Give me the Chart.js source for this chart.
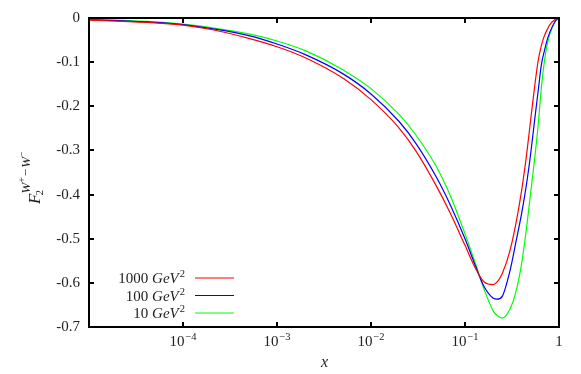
<!DOCTYPE html>
<html>
<head>
<meta charset="utf-8">
<script src="https://cdn.jsdelivr.net/npm/chart.js@4.4.0/dist/chart.umd.min.js"></script>
<style>
html, body { margin: 0; padding: 0; background: #fff; }
</style>
</head>
<body>
<canvas id="chart" width="581" height="374"></canvas>
<script>
// x grid (log axis)
var xValues = [1e-5, 2e-5, 5e-5, 1e-4, 2e-4, 5e-4, 1e-3, 2e-3, 5e-3, 1e-2,
    2e-2, 3e-2, 5e-2, 7e-2, 0.1, 0.13, 0.16, 0.2, 0.22, 0.25,
    0.3, 0.35, 0.4, 0.45, 0.5, 0.55, 0.6, 0.65, 0.7, 0.75,
    0.8, 0.9, 0.95, 1];

// F2 W+ - W-
var f2_1000 = [-0.005, -0.007, -0.011, -0.016, -0.026, -0.046, -0.065, -0.090, -0.136, -0.185,
    -0.250, -0.301, -0.382, -0.443, -0.515, -0.568, -0.598, -0.604, -0.598, -0.578,
    -0.528, -0.463, -0.391, -0.313, -0.230, -0.156, -0.097, -0.062, -0.040, -0.026,
    -0.015, -0.004, -0.001, 0];
var f2_100 = [-0.004, -0.006, -0.010, -0.015, -0.024, -0.040, -0.059, -0.083, -0.126, -0.172,
    -0.235, -0.284, -0.362, -0.424, -0.500, -0.563, -0.609, -0.635, -0.637, -0.630,
    -0.574, -0.505, -0.443, -0.378, -0.307, -0.232, -0.166, -0.105, -0.074, -0.049,
    -0.032, -0.009, -0.003, 0];
var f2_10 = [-0.003, -0.005, -0.009, -0.014, -0.022, -0.036, -0.052, -0.074, -0.117, -0.160,
    -0.219, -0.265, -0.338, -0.403, -0.489, -0.558, -0.615, -0.664, -0.674, -0.680,
    -0.660, -0.618, -0.557, -0.478, -0.395, -0.320, -0.243, -0.156, -0.097, -0.060,
    -0.036, -0.010, -0.003, 0];

var seriesQ2 = ['1000', '100', '10'];
var seriesColors = ['#ff0000', '#0000ff', '#00ff00'];

var xTickValues = [1e-5, 1e-4, 1e-3, 1e-2, 1e-1, 1];
var xTickExps = [null, -4, -3, -2, -1, 0];   // null = no label
var yTickValues = [0, -0.1, -0.2, -0.3, -0.4, -0.5, -0.6, -0.7];

var SERIF = '"Liberation Serif", "DejaVu Serif", serif';
var TXT = '#222';

function pts(ys) {
    var out = [];
    for (var i = 0; i < xValues.length; i++) out.push({x: xValues[i], y: ys[i]});
    return out;
}

// frame, inward ticks, x labels, titles and key
var decorPlugin = {
    id: 'decor',
    afterDraw: function(chart) {
        var ctx = chart.ctx, a = chart.chartArea;
        var sx = chart.scales.x, sy = chart.scales.y;
        ctx.save();
        ctx.strokeStyle = '#000';
        ctx.lineWidth = 2;
        ctx.strokeRect(a.left, a.top, a.right - a.left, a.bottom - a.top);

        ctx.beginPath();
        xTickValues.forEach(function(v) {
            var p = Math.round(sx.getPixelForValue(v));
            ctx.moveTo(p, a.bottom); ctx.lineTo(p, a.bottom - 5);
            ctx.moveTo(p, a.top); ctx.lineTo(p, a.top + 5);
        });
        yTickValues.forEach(function(v) {
            var p = Math.round(sy.getPixelForValue(v));
            ctx.moveTo(a.left, p); ctx.lineTo(a.left + 5, p);
            ctx.moveTo(a.right, p); ctx.lineTo(a.right - 5, p);
        });
        ctx.stroke();

        // x tick labels 10^n
        ctx.fillStyle = TXT;
        ctx.textBaseline = 'alphabetic';
        ctx.textAlign = 'left';
        var base = a.bottom + 19;
        xTickValues.forEach(function(v, i) {
            var e = xTickExps[i];
            if (e === null) return;
            var p = sx.getPixelForValue(v);
            ctx.font = '15px ' + SERIF;
            if (e === 0) {
                ctx.fillText('1', p - ctx.measureText('1').width / 2, base);
                return;
            }
            var w1 = ctx.measureText('10').width;
            ctx.font = '10.5px ' + SERIF;
            var sup = '\u2212' + Math.abs(e);
            var w2 = ctx.measureText(sup).width;
            var x0 = p - (w1 + w2 + 1) / 2;
            ctx.font = '15px ' + SERIF;
            ctx.fillText('10', x0, base);
            ctx.font = '10.5px ' + SERIF;
            ctx.fillText(sup, x0 + w1 + 1, base - 6);
        });

        // x title
        ctx.font = 'italic 16px ' + SERIF;
        ctx.fillText('x', (a.left + a.right) / 2 - 3, a.bottom + 40);

        // y title F_2^{W+ - W-}
        ctx.save();
        ctx.translate(40, 204);
        ctx.rotate(-Math.PI / 2);
        ctx.font = 'italic 17px ' + SERIF;
        ctx.fillText('F', 0, 0);
        var fx = ctx.measureText('F').width;
        ctx.font = '11px ' + SERIF;
        ctx.fillText('2', fx - 2, 3);
        var cx = fx, up = -10;
        ctx.font = 'italic 13px ' + SERIF;
        ctx.fillText('W', cx, up); cx += ctx.measureText('W').width;
        ctx.font = '10px ' + SERIF;
        ctx.fillText('+', cx, up - 5); cx += ctx.measureText('+').width + 1;
        ctx.font = '13px ' + SERIF;
        ctx.fillText('\u2212', cx, up); cx += ctx.measureText('\u2212').width + 1;
        ctx.font = 'italic 13px ' + SERIF;
        ctx.fillText('W', cx, up); cx += ctx.measureText('W').width;
        ctx.font = '10px ' + SERIF;
        ctx.fillText('\u2212', cx, up - 5);
        ctx.restore();

        // key, bottom left: text then line sample
        var rowY = [278, 295.5, 313];
        chart.data.datasets.forEach(function(ds, i) {
            var y = rowY[i];
            var right = 185;
            ctx.font = '15px ' + SERIF;
            var wn = ctx.measureText(seriesQ2[i] + ' ').width;
            ctx.font = 'italic 15px ' + SERIF;
            var wg = ctx.measureText('GeV').width;
            ctx.font = '10.5px ' + SERIF;
            var ws = ctx.measureText('2').width;
            var x0 = right - wn - wg - ws - 1;
            ctx.fillStyle = TXT;
            ctx.font = '15px ' + SERIF;
            ctx.fillText(seriesQ2[i] + ' ', x0, y + 5);
            ctx.font = 'italic 15px ' + SERIF;
            ctx.fillText('GeV', x0 + wn, y + 5);
            ctx.font = '10.5px ' + SERIF;
            ctx.fillText('2', x0 + wn + wg + 1, y - 1);
            ctx.strokeStyle = ds.borderColor;
            ctx.lineWidth = 1.2;
            ctx.beginPath();
            ctx.moveTo(195, y); ctx.lineTo(234, y);
            ctx.stroke();
        });
        ctx.restore();
    }
};

new Chart(document.getElementById('chart'), {
    type: 'line',
    data: {
        datasets: [
            {label: '1000 GeV^2', data: pts(f2_1000), borderColor: seriesColors[0]},
            {label: '100 GeV^2', data: pts(f2_100), borderColor: seriesColors[1]},
            {label: '10 GeV^2', data: pts(f2_10), borderColor: seriesColors[2]}
        ]
    },
    options: {
        responsive: false,
        animation: false,
        layout: {padding: {left: 0, right: 22, top: 17, bottom: 0}},
        elements: {
            point: {radius: 0},
            line: {borderWidth: 1.2, cubicInterpolationMode: 'monotone', fill: false}
        },
        plugins: {legend: {display: false}, tooltip: {enabled: false}},
        scales: {
            x: {
                type: 'logarithmic', min: 1e-5, max: 1,
                afterBuildTicks: function(s) { s.ticks = xTickValues.map(function(v) { return {value: v}; }); },
                afterFit: function(s) { s.height = 47; },
                grid: {display: false, drawTicks: false},
                border: {display: false},
                ticks: {display: false}
            },
            y: {
                type: 'linear', min: -0.7, max: 0,
                afterBuildTicks: function(s) { s.ticks = yTickValues.map(function(v) { return {value: v}; }); },
                afterFit: function(s) { s.width = 89; },
                grid: {display: false, drawTicks: false},
                border: {display: false},
                ticks: {
                    padding: 9, color: TXT,
                    font: {family: SERIF, size: 15},
                    callback: function(v) { return String(Number(Number(v).toFixed(1))); }
                }
            }
        }
    },
    plugins: [decorPlugin]
});
</script>
</body>
</html>
